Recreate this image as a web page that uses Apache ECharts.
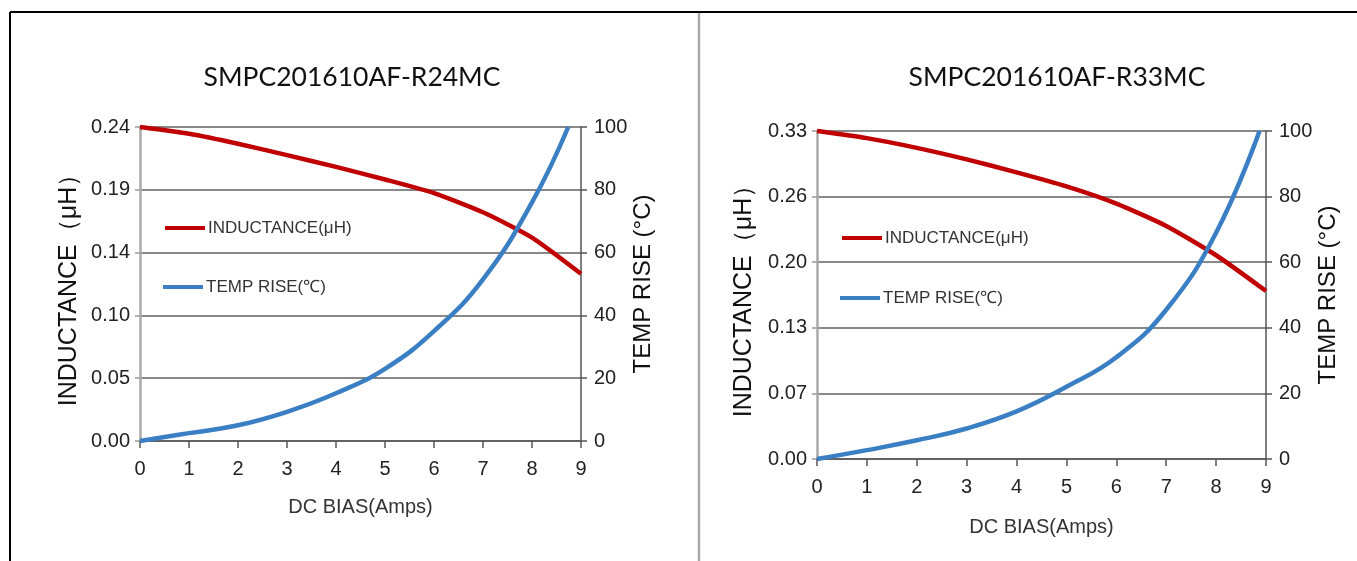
<!DOCTYPE html>
<html>
<head>
<meta charset="utf-8">
<script src="https://cdn.jsdelivr.net/npm/echarts@6/dist/echarts.min.js"></script>
<style>
html,body{margin:0;padding:0;background:#fff;}
#chart{width:1357px;height:561px;}
</style>
</head>
<body>
<div id="chart"></div>
<script>
// ---- data ----
const titles = ['SMPC201610AF-R24MC', 'SMPC201610AF-R33MC'];
const biasAmps = [0, 1, 2, 3, 4, 5, 6, 7, 8, 9];
const r24Inductance = [0.240, 0.2348, 0.2272, 0.2185, 0.2095, 0.1999, 0.1895, 0.1748, 0.1555, 0.1278];
const r24TempBias = [0, 1, 2, 3, 4, 5, 6, 7, 8, 8.74];
const r24Temp = [0, 2.5, 5, 9.3, 15.2, 23, 35, 51.5, 76, 100];
const r33Inductance = [0.330, 0.3228, 0.3130, 0.3014, 0.2884, 0.2743, 0.2570, 0.2345, 0.2050, 0.1690];
const r33TempBias = [0, 1, 2, 3, 4, 5, 6, 7, 8, 8.87];
const r33Temp = [0, 2.7, 5.7, 9.3, 14.5, 22, 31, 45.5, 69, 100];
const indTop = [0.24, 0.33];
const tempTop = 100;
const xName = 'DC BIAS(Amps)';
const indName = 'INDUCTANCE（μH）';
const tempName = 'TEMP RISE (°C)';
const legendInd = 'INDUCTANCE(μH)';
const legendTemp = 'TEMP RISE(℃)';

const pairs = (xs, ys) => xs.map((x, i) => [x, ys[i]]);

const RED = '#c00000';
const BLUE = '#3a7fc3';
const SANS = "'Liberation Sans',Arial,sans-serif";

const grids = [
  {left: 140, top: 127, width: 441, height: 314},
  {left: 817, top: 131, width: 449, height: 328}
];
const gaps = [
  {x: 56, l: 58, r: 48},
  {x: 58, l: 60, r: 47}
];

function xAxis(i) {
  return {
    type: 'value', gridIndex: i, min: 0, max: 9, interval: 1,
    name: xName, nameLocation: 'middle', nameGap: gaps[i].x,
    nameTextStyle: {fontFamily: SANS, fontSize: 20, color: '#333'},
    axisLine: {show: true, onZero: false, lineStyle: {color: '#555', width: 1.5}},
    axisTick: {show: true, length: 7, lineStyle: {color: '#555', width: 1.5}},
    axisLabel: {fontFamily: SANS, fontSize: 20, color: '#222', margin: 18},
    splitLine: {show: false}
  };
}
function yLeft(i) {
  const top = indTop[i];
  return {
    type: 'value', gridIndex: i, min: 0, max: top, interval: top / 5,
    name: indName, nameLocation: 'middle', nameRotate: 90, nameGap: gaps[i].l,
    nameTextStyle: {fontFamily: SANS, fontSize: 25, color: '#111'},
    axisLine: {show: true, lineStyle: {color: '#aaa', width: 2.5}},
    axisTick: {show: true, length: 5, lineStyle: {color: '#999', width: 1.5}},
    axisLabel: {fontFamily: SANS, fontSize: 20, color: '#222', margin: 10,
      formatter: v => v.toFixed(2)},
    splitLine: {show: true, lineStyle: {color: '#888', width: 2}}
  };
}
function yRight(i) {
  return {
    type: 'value', gridIndex: i, position: 'right', min: 0, max: tempTop, interval: 20,
    name: tempName, nameLocation: 'middle', nameRotate: 90, nameGap: gaps[i].r,
    nameTextStyle: {fontFamily: SANS, fontSize: 24, color: '#111'},
    axisLine: {show: true, lineStyle: {color: '#555', width: 1.5}},
    axisTick: {show: true, length: 6, lineStyle: {color: '#555', width: 1.5}},
    axisLabel: {fontFamily: SANS, fontSize: 20, color: '#222', margin: 13},
    splitLine: {show: false}
  };
}

function legend(name, color, left, top) {
  return {
    show: true, data: [{name: name, itemStyle: {color: color}}],
    left: left, top: top, padding: 0, icon: 'rect', itemWidth: 40, itemHeight: 4,
    selectedMode: false,
    textStyle: {fontFamily: SANS, fontSize: 17, lineHeight: 20, color: '#333', padding: [0, 0, 0, -2]}
  };
}

function series(name, xi, yi, data, color, smooth, z) {
  return {
    name: name, type: 'line', xAxisIndex: xi, yAxisIndex: yi, data: data,
    smooth: smooth, symbol: 'none', showSymbol: false, z: z,
    lineStyle: {color: color, width: 4.5}, itemStyle: {color: color},
    emphasis: {disabled: true}, clip: false
  };
}

const option = {
  animation: false,
  backgroundColor: '#fff',
  title: [
    {text: titles[0], left: 347, top: 59, textAlign: 'center',
     textStyle: {fontFamily: 'Lato,sans-serif', fontSize: 26.5, fontWeight: 'normal', color: '#111'}},
    {text: titles[1], left: 1052, top: 59, textAlign: 'center',
     textStyle: {fontFamily: 'Lato,sans-serif', fontSize: 26.5, fontWeight: 'normal', color: '#111'}}
  ],
  grid: grids,
  xAxis: [xAxis(0), xAxis(1)],
  yAxis: [yLeft(0), yRight(0), yLeft(1), yRight(1)],
  legend: [
    legend(legendInd, RED, 165, 218),
    legend(legendTemp, BLUE, 163, 277),
    legend(legendInd, RED, 842, 228),
    legend(legendTemp, BLUE, 840, 288)
  ],
  series: [
    series(legendInd, 0, 0, pairs(biasAmps, r24Inductance), RED, 0.2, 3),
    series(legendTemp, 0, 1, pairs(r24TempBias, r24Temp), BLUE, 0.45, 4),
    series(legendInd, 1, 2, pairs(biasAmps, r33Inductance), RED, 0.2, 3),
    series(legendTemp, 1, 3, pairs(r33TempBias, r33Temp), BLUE, 0.45, 4)
  ],
  graphic: [
    {type: 'line', shape: {x1: 10, y1: 12, x2: 1357, y2: 12}, style: {stroke: '#000', lineWidth: 2}},
    {type: 'line', shape: {x1: 10, y1: 12, x2: 10, y2: 561}, style: {stroke: '#000', lineWidth: 2}},
    {type: 'line', shape: {x1: 699, y1: 13, x2: 699, y2: 561}, style: {stroke: '#aaa', lineWidth: 2.5}}
  ]
};

const chart = echarts.init(document.getElementById('chart'), null, {renderer: 'canvas'});
chart.setOption(option);
</script>
</body>
</html>
